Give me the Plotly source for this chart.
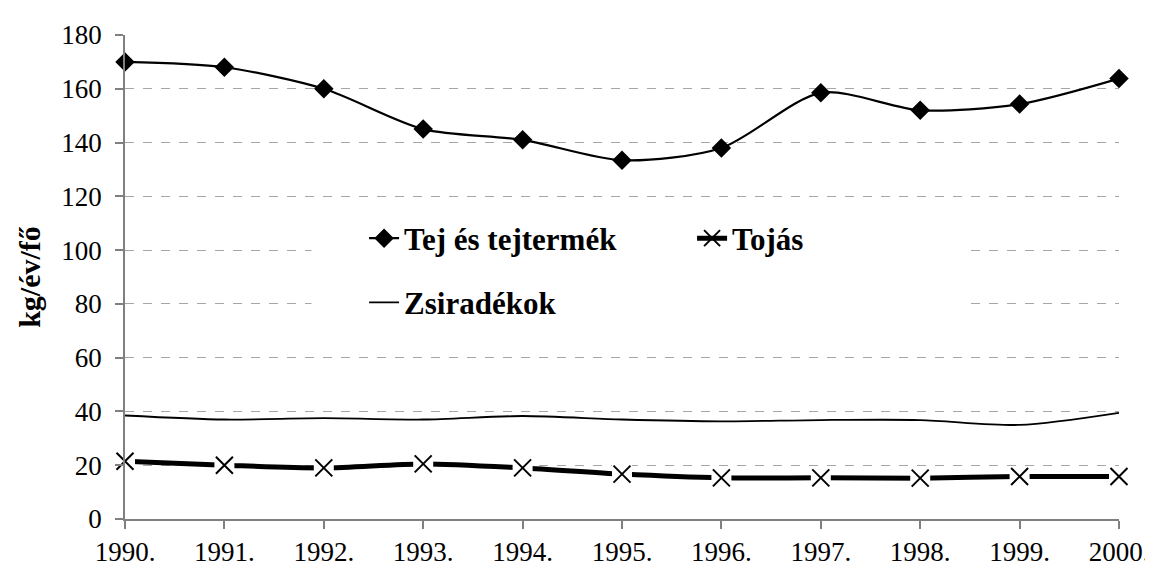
import plotly.graph_objects as go

years = [1990, 1991, 1992, 1993, 1994, 1995, 1996, 1997, 1998, 1999, 2000]
year_labels = ["1990.", "1991.", "1992.", "1993.", "1994.", "1995.", "1996.", "1997.", "1998.", "1999.", "2000."]
tej = [170, 168, 160, 145, 141, 133.4, 138, 158.5, 152, 154.3, 163.8]
tojas = [21.5, 20, 19, 20.5, 19, 16.7, 15.3, 15.3, 15.2, 15.8, 15.8]
zsir = [38.5, 37, 37.5, 37, 38.3, 37, 36.3, 36.8, 36.8, 35, 39.5]
y_ticks = [0, 20, 40, 60, 80, 100, 120, 140, 160, 180]

SERIF = "Liberation Serif, Times New Roman, Times, serif"

fig = go.Figure()

fig.add_trace(go.Scatter(
    x=years, y=zsir, name="Zsiradékok", mode="lines",
    line=dict(color="black", width=1.8, shape="spline", smoothing=0.8),
    legend="legend2", cliponaxis=False))

fig.add_trace(go.Scatter(
    x=years, y=tojas, name="Tojás", mode="lines+markers",
    line=dict(color="black", width=5, shape="spline", smoothing=0.8),
    marker=dict(symbol="square", size=20, color="white", line=dict(width=0)),
    showlegend=False, cliponaxis=False))
fig.add_trace(go.Scatter(
    x=years, y=tojas, name="Tojás", mode="markers",
    marker=dict(symbol="x-thin", size=17, color="black", line=dict(color="black", width=2)),
    showlegend=False, cliponaxis=False))

fig.add_trace(go.Scatter(
    x=years, y=tej, name="Tej és tejtermék", mode="lines+markers",
    line=dict(color="black", width=2.2, shape="spline", smoothing=0.8),
    marker=dict(symbol="diamond", size=15, color="black"),
    legend="legend", cliponaxis=False))

# legend-only entry for Tojás
fig.add_trace(go.Scatter(
    x=[None], y=[None], name="Tojás", mode="lines+markers",
    line=dict(color="black", width=5),
    marker=dict(symbol="x-thin", size=17, color="black", line=dict(color="black", width=2)),
    legend="legend"))

L, R, T, B = 117, 34, 26, 55
W, H = 1153, 571
pw, ph = W - L - R, H - T - B

def px_x(p):
    return (p - L) / pw

def px_y(p):
    return (H - B - p) / ph

fig.add_shape(type="rect", xref="paper", yref="paper",
              x0=px_x(305), x1=px_x(967), y0=px_y(340), y1=px_y(195),
              fillcolor="white", line=dict(width=0), layer="above")

fig.update_layout(
    width=W, height=H,
    margin=dict(l=L, r=R, t=T, b=B),
    paper_bgcolor="white", plot_bgcolor="white",
    font=dict(family=SERIF, size=27, color="black"),
    legend=dict(orientation="h", x=px_x(358), y=px_y(232), xanchor="left", yanchor="middle",
                bgcolor="rgba(0,0,0,0)", font=dict(family=SERIF, size=31, color="black", weight="bold"),
                entrywidth=283, traceorder="normal", itemsizing="trace"),
    legend2=dict(orientation="h", x=px_x(358), y=px_y(297), xanchor="left", yanchor="middle",
                 bgcolor="rgba(0,0,0,0)", font=dict(family=SERIF, size=31, color="black", weight="bold")),
    showlegend=True,
)

fig.update_xaxes(
    range=[1990, 2000], tickvals=years, ticktext=year_labels,
    showgrid=False, zeroline=False,
    showline=True, linecolor="#808080", linewidth=1.5,
    ticks="outside", ticklen=8, tickcolor="#808080", tickwidth=1.5,
    tickfont=dict(family=SERIF, size=27, color="black"),
)
fig.update_yaxes(
    range=[0, 180], tickvals=y_ticks,
    showgrid=True, gridcolor="#a6a6a6", griddash="dash", gridwidth=1,
    zeroline=False,
    showline=True, linecolor="#808080", linewidth=1.5,
    ticks="outside", ticklen=8, tickcolor="#808080", tickwidth=1.5,
    ticklabelstandoff=8,
    tickfont=dict(family=SERIF, size=27, color="black"),
    title=dict(text="<b>kg/év/fő</b>", font=dict(family=SERIF, size=30, color="black"), standoff=12),
)

fig.write_html("out.html")
